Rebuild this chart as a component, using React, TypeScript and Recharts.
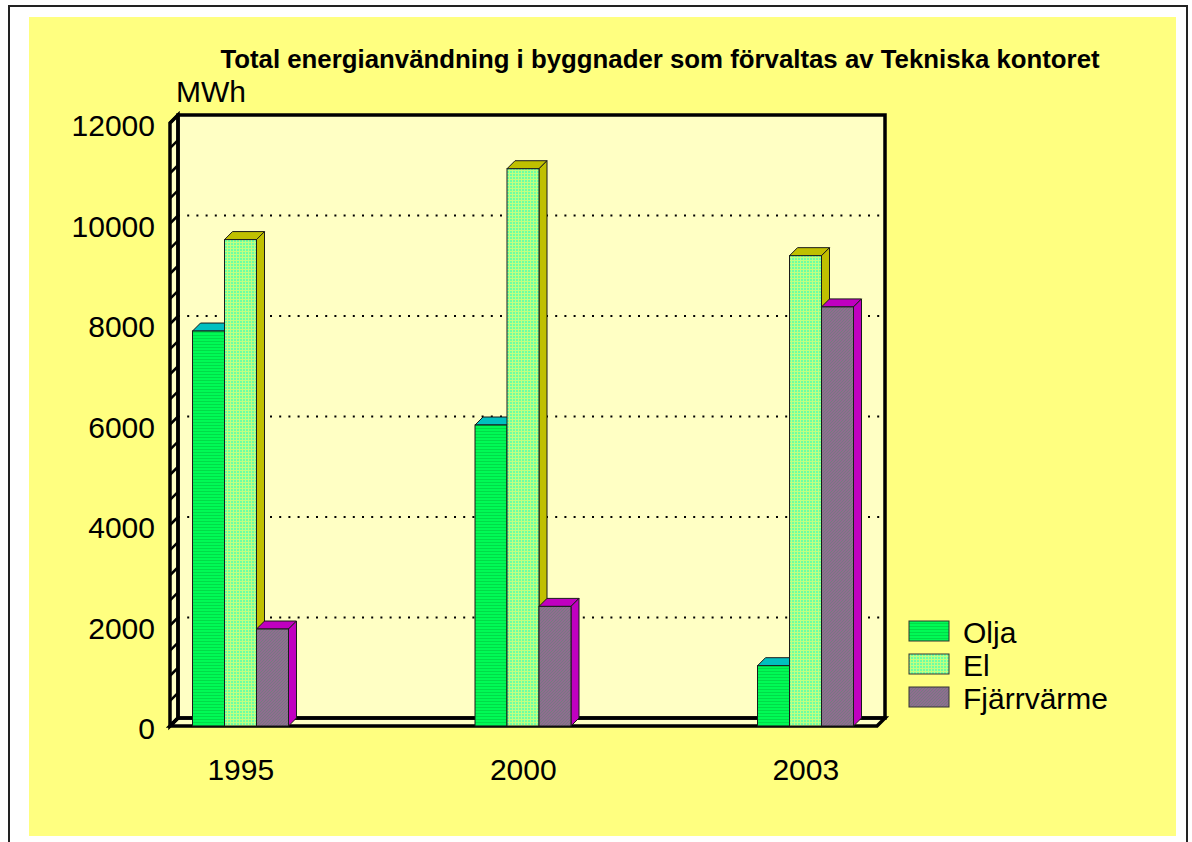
import React from 'react';
import { BarChart, Bar, XAxis, YAxis, CartesianGrid, Legend } from 'recharts';

// ---- data ----
const years = ['1995', '2000', '2003'];
const olja = [7860, 5990, 1200];
const el = [9680, 11090, 9360];
const fjarrvarme = [1930, 2380, 8340];
const yTicks = [0, 2000, 4000, 6000, 8000, 10000, 12000];
const seriesNames = ['Olja', 'El', 'Fjärrvärme'];
const titleText = 'Total energianvändning i byggnader som förvaltas av Tekniska kontoret';
const unitText = 'MWh';

const data = years.map((year, i) => ({
  year,
  [seriesNames[0]]: olja[i],
  [seriesNames[1]]: el[i],
  [seriesNames[2]]: fjarrvarme[i],
}));

// ---- layout ----
const W = 1192;
const H = 842;
const PLOT_L = 170;
const PLOT_R = 877;
const PLOT_T = 123;
const PLOT_B = 726;
const D = 8;
const Y_AXIS_W = 100;
const X_AXIS_H = 60;
const FS = 30;
const FONT = '"Liberation Sans", Arial, Helvetica, sans-serif';

const make3D = (topColor: string, sideColor: string, pattern: string) => (props: any) => {
  const { x, y, width, height } = props;
  if (x == null || y == null || !width || height == null) return <g />;
  return (
    <g>
      <polygon
        points={`${x},${y} ${x + D},${y - D} ${x + width + D},${y - D} ${x + width},${y}`}
        fill={topColor}
        stroke="#1a1a1a"
        strokeWidth={1}
      />
      <polygon
        points={`${x + width},${y} ${x + width + D},${y - D} ${x + width + D},${y + height - D} ${x + width},${y + height}`}
        fill={sideColor}
        stroke="#1a1a1a"
        strokeWidth={1}
      />
      <rect x={x} y={y} width={width} height={height} fill={`url(#${pattern})`} stroke="#1a1a1a" strokeWidth={1} />
    </g>
  );
};

const oljaShape = make3D('#00C0C0', '#00A8A8', 'pOlja');
const elShape = make3D('#C0C000', '#C0C000', 'pEl');
const fjShape = make3D('#C000C0', '#C000C0', 'pFj');

const YTick = (props: any) => {
  const { x, y, payload } = props;
  return (
    <text x={x} y={y + 2.5} dy={10.7} textAnchor="end" fontFamily={FONT} fontSize={FS} fill="#000">
      {payload.value}
    </text>
  );
};

const XTick = (props: any) => {
  const { x, y, payload } = props;
  return (
    <text x={x} y={y} dy={20.5} textAnchor="middle" fontFamily={FONT} fontSize={FS} fill="#000">
      {payload.value}
    </text>
  );
};

const gridLine = (props: any) => {
  const { x1, y1, x2, y2 } = props;
  if (Math.abs(y1 - PLOT_T) < 1 || Math.abs(y1 - PLOT_B) < 1) return <g key={`g-${y1}`} />;
  return (
    <line
      key={`g-${y1}`}
      x1={x1 + D}
      y1={y1 - D}
      x2={x2 + D}
      y2={y2 - D}
      stroke="#000"
      strokeWidth={2}
      strokeDasharray="2 7.2"
    />
  );
};

const renderLegend = (props: any) => {
  const payload = [...(props.payload || [])].sort(
    (a: any, b: any) => seriesNames.indexOf(a.value) - seriesNames.indexOf(b.value)
  );
  return (
    <svg width={260} height={110} style={{ display: 'block' }}>
      {payload.map((entry: any, i: number) => (
        <g key={entry.value}>
          <rect x={4} y={6 + 33 * i} width={40} height={20} fill={entry.color} stroke="#333" strokeWidth={1} />
          <text x={58} y={28 + 33 * i} fontFamily={FONT} fontSize={FS} fill="#000">
            {entry.value}
          </text>
        </g>
      ))}
    </svg>
  );
};

const Background = () => {
  const BL = PLOT_L + D;
  const BT = PLOT_T - D;
  const BR = PLOT_R + D;
  const BB = PLOT_B - D;
  const slashes: number[] = [];
  for (let v = 0; v <= 12000; v += 500) slashes.push(v);
  return (
    <svg width={W} height={H} style={{ position: 'absolute', left: 0, top: 0 }}>
      <defs>
        <pattern id="pOlja" patternUnits="userSpaceOnUse" width={4} height={3}>
          <rect width={4} height={3} fill="#00FA55" />
          <rect y={2} width={4} height={1} fill="#00DC48" />
        </pattern>
        <pattern id="pEl" patternUnits="userSpaceOnUse" width={3} height={3}>
          <rect width={3} height={3} fill="#6CFFA4" />
          <rect x={2} width={1} height={3} fill="#C0FF80" />
          <rect y={2} width={3} height={1} fill="#C0FF80" />
        </pattern>
        <pattern id="pFj" patternUnits="userSpaceOnUse" width={3} height={3}>
          <rect width={3} height={3} fill="#906C90" />
          <path d="M0,3 L3,0" stroke="#747A80" strokeWidth={1} />
        </pattern>
      </defs>
      <rect x={29} y={17} width={1147} height={819} fill="#FFFF80" />
      <text x={660} y={68} textAnchor="middle" fontFamily={FONT} fontWeight="bold" fontSize={25.8} fill="#000">
        {titleText}
      </text>
      <text x={176} y={102} fontFamily={FONT} fontSize={FS} fill="#000">
        {unitText}
      </text>
      {/* back wall */}
      <rect x={BL} y={BT} width={BR - BL} height={BB - BT} fill="#FFFFC4" />
      {/* left wall */}
      <polygon points={`${PLOT_L},${PLOT_T} ${BL},${BT} ${BL},${BB} ${PLOT_L},${PLOT_B}`} fill="#FFFFC4" />
      {/* floor */}
      <polygon points={`${PLOT_L},${PLOT_B} ${BL},${BB} ${BR},${BB} ${PLOT_R},${PLOT_B}`} fill="#FFFFC4" />
      {slashes.map((v) => {
        const y = PLOT_B - (v / 12000) * (PLOT_B - PLOT_T);
        return <line key={v} x1={PLOT_L} y1={y} x2={BL} y2={y - D} stroke="#000" strokeWidth={2.5} />;
      })}
      <rect x={BL} y={BT} width={BR - BL} height={BB - BT} fill="none" stroke="#000" strokeWidth={3.5} />
      <polygon
        points={`${PLOT_L},${PLOT_T} ${BL},${BT} ${BL},${BB} ${PLOT_L},${PLOT_B}`}
        fill="none"
        stroke="#000"
        strokeWidth={3.5}
      />
      <polygon
        points={`${PLOT_L},${PLOT_B} ${BL},${BB} ${BR},${BB} ${PLOT_R},${PLOT_B}`}
        fill="none"
        stroke="#000"
        strokeWidth={3.5}
      />
    </svg>
  );
};

export default function App() {
  return (
    <div
      style={{
        position: 'absolute',
        left: 0,
        top: 0,
        width: W,
        height: H,
        overflow: 'hidden',
        background: '#fff',
      }}
    >
      <div
        style={{
          position: 'absolute',
          left: 8,
          top: 5,
          width: 1180,
          height: 900,
          border: '2px solid #222',
          boxSizing: 'border-box',
        }}
      />
      <Background />
      <div style={{ position: 'absolute', left: 0, top: 0 }}>
        <BarChart
          width={W}
          height={H}
          data={data}
          barGap={0}
          margin={{ top: PLOT_T, right: W - PLOT_R, bottom: H - PLOT_B - X_AXIS_H, left: PLOT_L - Y_AXIS_W }}
        >
          <CartesianGrid vertical={false} horizontal={gridLine} />
          <XAxis
            dataKey="year"
            axisLine={false}
            tickLine={false}
            height={X_AXIS_H}
            tickMargin={27}
            padding={{ left: -70.5, right: -70 }}
            tick={<XTick />}
            interval={0}
          />
          <YAxis
            domain={[0, 12000]}
            ticks={yTicks}
            axisLine={false}
            tickLine={false}
            width={Y_AXIS_W}
            tickMargin={9}
            tick={<YTick />}
            interval={0}
          />
          <Legend
            layout="vertical"
            align="center"
            verticalAlign="middle"
            wrapperStyle={{ left: 905, top: 615, width: 260, height: 110 }}
            content={renderLegend}
          />
          <Bar dataKey={seriesNames[0]} name={seriesNames[0]} fill="url(#pOlja)" barSize={32} shape={oljaShape} isAnimationActive={false} />
          <Bar dataKey={seriesNames[1]} name={seriesNames[1]} fill="url(#pEl)" barSize={32} shape={elShape} isAnimationActive={false} />
          <Bar dataKey={seriesNames[2]} name={seriesNames[2]} fill="url(#pFj)" barSize={32} shape={fjShape} isAnimationActive={false} />
        </BarChart>
      </div>
    </div>
  );
}
